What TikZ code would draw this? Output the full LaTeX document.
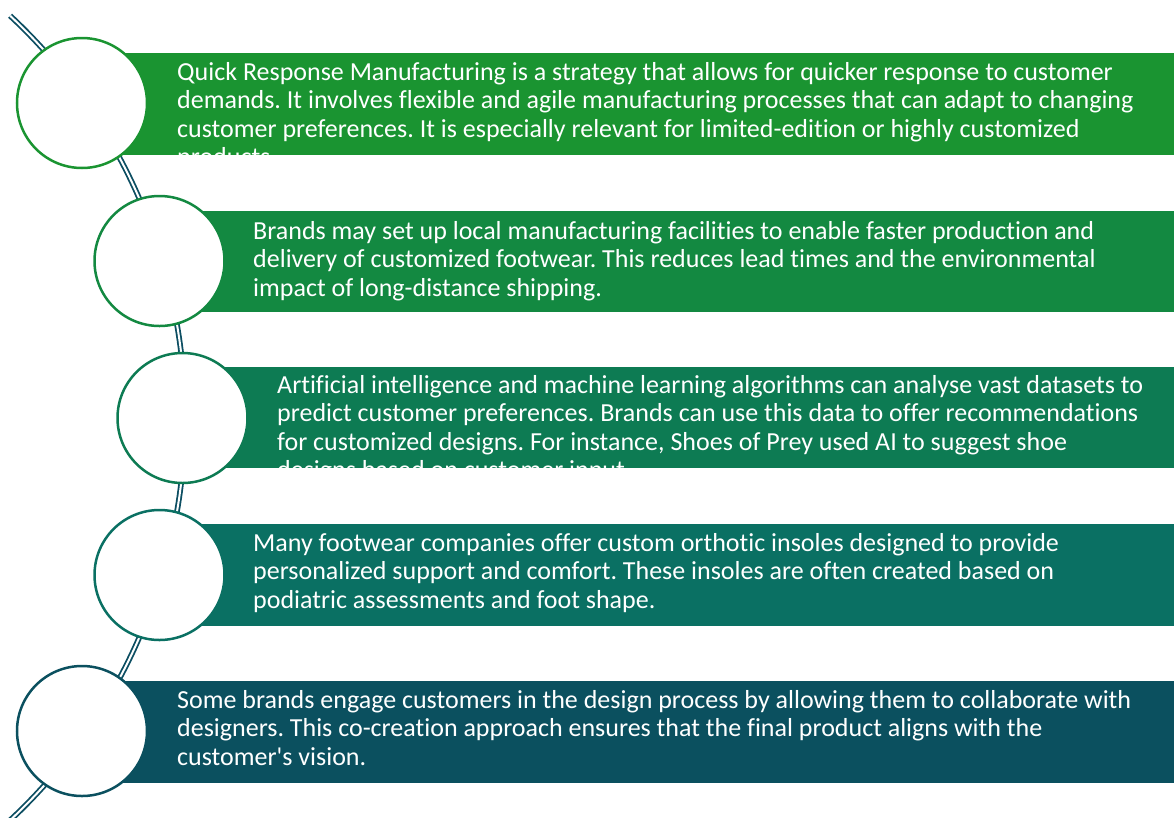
\documentclass[tikz,border=0pt]{standalone}
\usepackage{fontspec}
\setmainfont{Carlito}[Ligatures={NoCommon}]
\frenchspacing
\usetikzlibrary{positioning}
\definecolor{stepA}{HTML}{1A9431}
\definecolor{stepB}{HTML}{138941}
\definecolor{stepC}{HTML}{0D7B53}
\definecolor{stepD}{HTML}{0A7063}
\definecolor{stepE}{HTML}{0B505F}
\definecolor{spine}{HTML}{0C4E62}
\tikzset{
  ring/.style={circle, draw=#1, line width=2.5pt, fill=white, minimum size=130pt, inner sep=0pt},
  bartext/.style={anchor=north west, text=white, align=left, inner sep=0pt, font=\fontsize{26}{28.5}\selectfont},
}

\begin{document}
\begin{tikzpicture}[x=1pt,y=-1pt]
                \useasboundingbox (0,0) rectangle (1174,817);

                % Draw the curved spine behind the circles
                \draw[spine, line width=1.8pt, double=white, double distance=2pt] (-365,418) ++(-47:550) arc[start angle=-47, end angle=47, radius=550];

                % Draw the coloured bars with their (clipped) texts
                \begin{scope}
                  \clip (82,53) rectangle (1174,155);
                  \fill[stepA] (82,53) rectangle (1174,155);
                  \node[bartext] (t1) at (177,60) {\strut Quick Response Manufacturing is a strategy that allows for quicker response to customer\\demands. It involves flexible and agile manufacturing processes that can adapt to changing\\customer preferences. It is especially relevant for limited-edition or highly customized\\products.};
                \end{scope}
                \begin{scope}
                  \clip (159,211) rectangle (1174,312);
                  \fill[stepB] (159,211) rectangle (1174,312);
                  \node[bartext] (t2) at (253,219) {\strut Brands may set up local manufacturing facilities to enable faster production and\\delivery of customized footwear. This reduces lead times and the environmental\\impact of long-distance shipping.};
                \end{scope}
                \begin{scope}
                  \clip (182,367) rectangle (1174,468);
                  \fill[stepC] (182,367) rectangle (1174,468);
                  \node[bartext] (t3) at (277,373) {\strut Artificial intelligence and machine learning algorithms can analyse vast datasets to\\predict customer preferences. Brands can use this data to offer recommendations\\for customized designs. For instance, Shoes of Prey used AI to suggest shoe\\designs based on customer input.};
                \end{scope}
                \begin{scope}
                  \clip (159,524) rectangle (1174,626);
                  \fill[stepD] (159,524) rectangle (1174,626);
                  \node[bartext] (t4) at (253,531) {\strut Many footwear companies offer custom orthotic insoles designed to provide\\personalized support and comfort. These insoles are often created based on\\podiatric assessments and foot shape.};
                \end{scope}
                \begin{scope}
                  \clip (82,681) rectangle (1174,783);
                  \fill[stepE] (82,681) rectangle (1174,783);
                  \node[bartext] (t5) at (177,688.3) {\strut Some brands engage customers in the design process by allowing them to collaborate with\\designers. This co-creation approach ensures that the final product aligns with the\\customer\textquotesingle s vision.};
                \end{scope}

                % Draw the circles on top
                \node[ring=stepA] (c1) at (82,103) {};
                \node[ring=stepB] (c2) at (159.5,261) {};
                \node[ring=stepC] (c3) at (182.5,418) {};
                \node[ring=stepD] (c4) at (159.5,575) {};
                \node[ring=stepE] (c5) at (82,731) {};
\end{tikzpicture}
\end{document}
